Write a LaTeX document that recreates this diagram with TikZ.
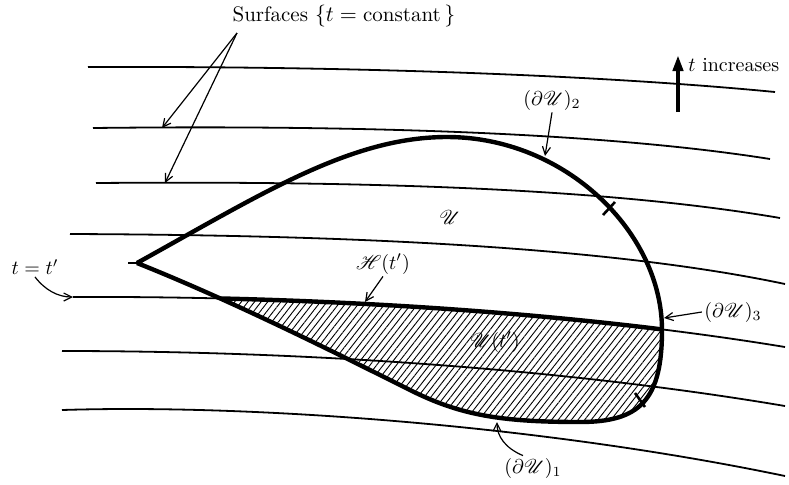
\documentclass[tikz,border=0pt]{standalone}
\usepackage{mathrsfs}
\usetikzlibrary{arrows.meta,patterns.meta}
\begin{document}
\begin{tikzpicture}[x=0.5pt,y=-0.5pt,
  surfline/.style={line width=0.9pt},
  bound/.style={line width=2.2pt, line join=round},
  lbl/.style={inner sep=1pt},
  pointer/.style={line width=0.6pt, -{Straight Barb[length=4pt,width=4pt]}},
  tickmark/.style={line width=1.3pt}]
\useasboundingbox (0,0) rectangle (789,484);

% surfaces t = constant
\draw[surfline] (88,67) .. controls (350,66) and (600,75) .. (775,92);
\draw[surfline] (93,128) .. controls (350,125) and (600,132) .. (770,159);
\draw[surfline] (96,183) .. controls (350,181) and (600,187) .. (780,218);
\draw[surfline] (70,234) .. controls (330,235) and (600,245) .. (785,284);
\draw[surfline] (73,297) .. controls (300,296) and (560,310) .. (785,347);
\draw[surfline] (62,351) .. controls (300,351) and (560,368) .. (785,406);
\draw[surfline] (62,410) .. controls (250,404) and (540,425) .. (785,476);

% hatched region U(t') and H(t')
\begin{scope}
\clip (137,263) .. controls (260,195) and (350,137) .. (447,137)
  .. controls (565,137) and (662,232) .. (662,330)
  .. controls (662,400) and (640,422) .. (580,422)
  .. controls (500,422) and (460,415) .. (410,390)
  .. controls (330,350) and (230,300) .. (137,263) -- cycle;
\fill[pattern={Lines[angle=52,distance=2.6pt,line width=0.45pt]}]
  (73,297) .. controls (300,296) and (560,310) .. (785,347) -- (785,484) -- (73,484) -- cycle;
\draw[bound] (73,297) .. controls (300,296) and (560,310) .. (785,347);
\end{scope}

% boundary of U
\draw[bound] (137,263) .. controls (260,195) and (350,137) .. (447,137)
  .. controls (565,137) and (662,232) .. (662,330)
  .. controls (662,400) and (640,422) .. (580,422)
  .. controls (500,422) and (460,415) .. (410,390)
  .. controls (330,350) and (230,300) .. (137,263);
\draw[line width=1.4pt] (128,263) -- (137,263);
\draw[tickmark] (603,215) -- (615,202);
\draw[tickmark] (635,393) -- (645,407);

% labels
\node[lbl, font=\fontsize{10.5}{12}\selectfont] (surf) at (344,16) {Surfaces $\{t = \mbox{constant}\,\}$};
\coordinate (sa) at (237,33);
\coordinate (s1) at (162,128);
\coordinate (s2) at (165,183);
\draw[pointer] (sa) -- (s1);
\draw[pointer] (sa) -- (s2);

\coordinate (ta) at (678,112);
\coordinate (tb) at (678,55);
\draw[line width=2pt, -{Triangle[length=8pt,width=5pt]}] (ta) -- (tb);
\node[lbl, anchor=west] (tinc) at (686,65) {$t$ increases};

\node[lbl] (d2) at (552,100) {$(\partial\mathscr{U})_2$};
\coordinate (d2e) at (545,156);
\draw[pointer] (d2.south) -- (d2e);

\node[lbl] (U) at (450,217) {$\mathscr{U}$};

\node[lbl] (tt) at (35,267) {$t = t'$};
\coordinate (l5s) at (73,297);
\draw[pointer] (tt.south) .. controls (45,290) and (58,297) .. (l5s);

\node[lbl] (H) at (383,264) {$\mathscr{H}(t')$};
\coordinate (he) at (365,302);
\draw[pointer] (H.south) -- (he);

\node[lbl] (Ut) at (495,342) {$\mathscr{U}(t')$};

\node[lbl] (d3) at (733,312) {$(\partial\mathscr{U})_3$};
\coordinate (d3e) at (664,318);
\draw[pointer] (d3.west) -- (d3e);

\node[lbl] (d1) at (533,468) {$(\partial\mathscr{U})_1$};
\coordinate (d1e) at (497,422);
\draw[pointer] ([xshift=-5pt]d1.north) .. controls (505,448) and (497,436) .. (d1e);
\end{tikzpicture}
\end{document}
